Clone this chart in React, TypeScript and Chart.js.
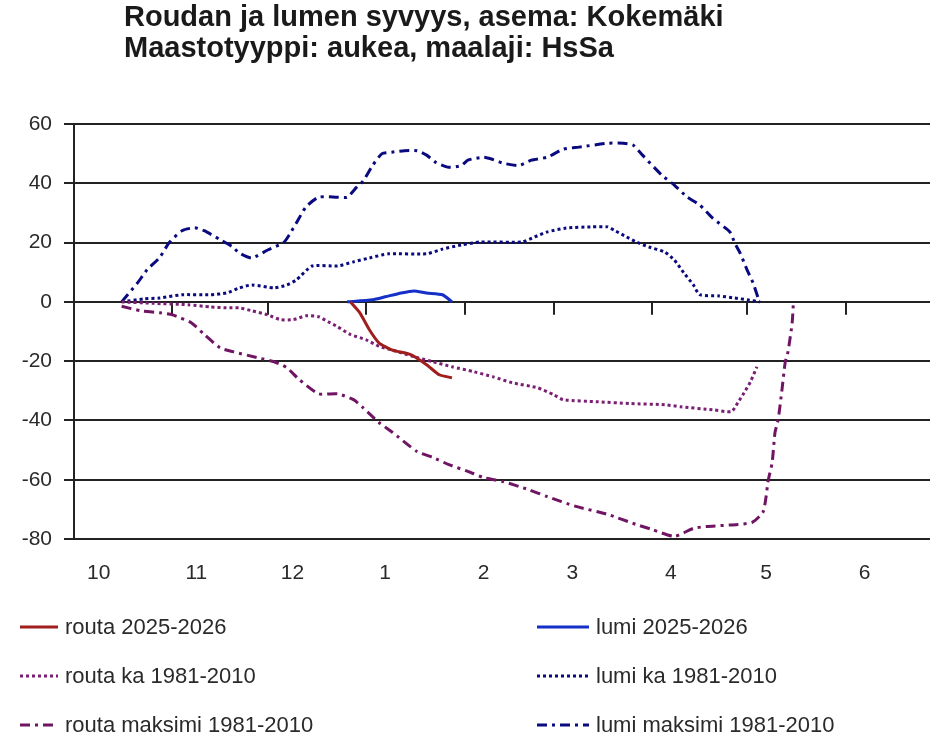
import React, { useEffect, useRef } from "react";
import { Chart, registerables } from "chart.js";

Chart.register(...registerables);

// x values are days since 1 October
const monthStarts = [0, 31, 61, 92, 123, 151, 182, 212, 243];
const monthLabels = ["10", "11", "12", "1", "2", "3", "4", "5", "6"];

const routaNowDays = [87, 90, 93, 96, 100, 106, 111, 115, 119];
const routaNowValues = [0, -3.7, -9.4, -13.8, -16.2, -17.8, -21.2, -24.6, -25.6];

const lumiNowDays = [86, 94, 98, 103, 107, 111, 116, 119];
const lumiNowValues = [0, 0.7, 1.7, 3, 3.7, 3, 2.4, 0];

const routaKaDays = [15, 25, 36, 43, 48, 52, 56, 61, 65, 69, 73, 77, 80, 83, 87, 92, 96, 100, 107, 113, 119, 126, 132, 138, 146, 151, 154, 165, 175, 186, 191, 201, 207, 209, 211, 213, 215];
const routaKaValues = [0, -0.5, -1, -1.7, -2, -2, -3, -4.4, -6, -6, -4.7, -5, -6.7, -8.4, -11, -12.8, -15, -16.2, -18.5, -20.2, -21.9, -23.6, -25.3, -27.3, -29, -31.3, -33, -33.7, -34.3, -34.7, -35.4, -36.4, -37, -34, -30.6, -26.9, -21.9];

const lumiKaDays = [15, 22, 27, 34, 43, 48, 52, 56, 63, 67, 70, 75, 83, 88, 93, 99, 111, 116, 122, 128, 141, 145, 149, 155, 163, 168, 170, 174, 177, 181, 186, 189, 192, 195, 197, 203, 208, 212, 216];
const lumiKaValues = [0, 1, 1.3, 2.4, 2.4, 3, 4.7, 5.7, 4.7, 5.7, 7.4, 12.1, 12.1, 13.5, 14.8, 16.2, 16.2, 17.8, 19.2, 20.2, 20.2, 21.9, 23.6, 24.9, 25.3, 25.3, 24.2, 21.9, 20.2, 18.5, 16.8, 14.1, 9.8, 5.7, 2.4, 2, 1.3, 0.7, 0];

const routaMaxDays = [15, 21, 27, 31, 37, 41, 46, 50, 58, 63, 67, 71, 77, 83, 88, 91, 96, 100, 108, 113, 118, 124, 129, 135, 143, 149, 158, 168, 177, 182, 189, 195, 199, 209, 213.5, 216.9, 217.9, 218.5, 219.8, 220.7, 221.7, 222.9, 223.9, 224.8, 226.1, 226.5];
const routaMaxValues = [-1.5, -3, -3.7, -4.4, -7.1, -11, -15.5, -16.8, -18.9, -20.2, -22.2, -26.3, -31, -31, -33, -35.7, -40.7, -43.8, -50.5, -52.5, -54.9, -57.2, -59.3, -60.6, -63.3, -65.7, -69, -71.7, -75.1, -76.8, -79.1, -76.4, -75.8, -75.1, -74.4, -71, -65.7, -60.6, -54.2, -44.1, -39.7, -29.6, -20.5, -16.8, -7.1, 0];

const lumiMaxDays = [15, 20, 23, 27, 30, 34, 38, 41, 46, 50, 52, 56, 61, 66, 68, 70, 73, 77, 83, 86, 89, 91, 94, 97, 100, 104, 108, 111, 114, 118, 122, 124, 129, 132, 135, 140, 144, 149, 154, 159, 168, 173, 176, 179, 185, 189, 193, 197, 201, 206.5, 208, 209.7, 211.9, 213.8, 215.4, 216];
const lumiMaxValues = [0, 6.4, 10.8, 15, 20, 24, 25, 24, 21, 18.5, 16.5, 14.8, 17.5, 20, 23, 26.6, 32, 35.3, 35.3, 35.3, 38.7, 40.7, 46, 50, 50.5, 51, 51, 49.5, 47, 45.4, 46, 47.8, 48.8, 48, 46.8, 46, 47.8, 48.8, 51.5, 52.2, 53.5, 53.5, 52.9, 49.5, 42.8, 39.4, 35.4, 32.7, 28.3, 23.6, 19.9, 16.5, 10.8, 6.4, 1.3, 0];

const titleLines = ["Roudan ja lumen syvyys, asema: Kokemäki", "Maastotyyppi: aukea, maalaji: HsSa"];

const FONT = '"Liberation Sans", Arial, sans-serif';
const C_ROUTA_NOW = "#a01e1e";
const C_LUMI_NOW = "#1530c8";
const C_ROUTA_KA = "#7a1f73";
const C_LUMI_KA = "#0a0a80";
const C_ROUTA_MAX = "#701464";
const C_LUMI_MAX = "#0a0a80";
const DOT = [3, 3];
const DASHDOT = [10, 5, 3, 5];

const series = [
  { label: "routa 2025-2026", days: routaNowDays, values: routaNowValues, color: C_ROUTA_NOW, dash: [] as number[] },
  { label: "lumi 2025-2026", days: lumiNowDays, values: lumiNowValues, color: C_LUMI_NOW, dash: [] as number[] },
  { label: "routa ka 1981-2010", days: routaKaDays, values: routaKaValues, color: C_ROUTA_KA, dash: DOT },
  { label: "lumi ka 1981-2010", days: lumiKaDays, values: lumiKaValues, color: C_LUMI_KA, dash: DOT },
  { label: "routa maksimi 1981-2010", days: routaMaxDays, values: routaMaxValues, color: C_ROUTA_MAX, dash: DASHDOT },
  { label: "lumi maksimi 1981-2010", days: lumiMaxDays, values: lumiMaxValues, color: C_LUMI_MAX, dash: DASHDOT },
];

const zeroTicksPlugin = {
  id: "zeroTicks",
  beforeDatasetsDraw(chart: any) {
    const { ctx, scales } = chart;
    const x = scales.x;
    const y = scales.y;
    const y0 = y.getPixelForValue(0);
    ctx.save();
    ctx.strokeStyle = "#222";
    ctx.lineWidth = 2;
    monthStarts.forEach((d) => {
      if (d === 0) return;
      const px = Math.round(x.getPixelForValue(d));
      ctx.beginPath();
      ctx.moveTo(px, y0);
      ctx.lineTo(px, y0 + 13);
      ctx.stroke();
    });
    ctx.restore();
  },
};

function LegendItem({ s, left, top, sample }: any) {
  return (
    <div style={{ position: "absolute", left, top, height: 24, display: "flex", alignItems: "center" }}>
      <svg width={sample} height={24} style={{ display: "block" }}>
        <line x1={0} y1={12} x2={sample} y2={12} stroke={s.color} strokeWidth={3}
          strokeDasharray={s.dash.length ? s.dash.join(",") : undefined} />
      </svg>
      <span style={{ marginLeft: 7, font: `22px ${FONT}`, lineHeight: "24px", color: "#2a2a2a", whiteSpace: "nowrap" }}>{s.label}</span>
    </div>
  );
}

export default function App() {
  const ref = useRef<HTMLCanvasElement>(null);
  useEffect(() => {
    if (!ref.current) return;
    const chart = new Chart(ref.current, {
      type: "line",
      data: {
        datasets: series.map((s) => ({
          label: s.label,
          data: s.days.map((d, i) => ({ x: d, y: s.values[i] })),
          borderColor: s.color,
          backgroundColor: s.color,
          borderWidth: 3,
          borderDash: s.dash,
          borderCapStyle: "butt" as const,
          pointRadius: 0,
          tension: 0.2,
          fill: false,
        })),
      },
      options: {
        animation: false,
        responsive: false,
        devicePixelRatio: 1,
        layout: { padding: { left: 0, right: 0, top: 124, bottom: 138 } },
        plugins: { legend: { display: false }, title: { display: false }, tooltip: { enabled: false } },
        scales: {
          x: {
            type: "linear",
            min: 0,
            max: 269.5,
            grid: { display: false },
            border: { display: false },
            afterBuildTicks: (scale: any) => {
              scale.ticks = monthStarts.map((v) => ({ value: v }));
            },
            afterFit: (scale: any) => {
              scale.height = 60;
            },
            ticks: {
              autoSkip: false,
              maxRotation: 0,
              align: "start",
              labelOffset: 13,
              padding: 14,
              color: "#2a2a2a",
              font: { family: FONT, size: 21 },
              callback: (v: any) => {
                const i = monthStarts.indexOf(Number(v));
                return i >= 0 ? monthLabels[i] : "";
              },
            },
          },
          y: {
            min: -80,
            max: 60,
            grid: { color: "#222", lineWidth: 2, tickLength: 10, drawTicks: true },
            border: { display: true, color: "#222", width: 2 },
            afterFit: (scale: any) => {
              scale.width = 74;
            },
            ticks: { stepSize: 20, padding: 12, color: "#2a2a2a", font: { family: FONT, size: 21 } },
          },
        },
      },
      plugins: [zeroTicksPlugin],
    } as any);
    return () => chart.destroy();
  }, []);

  const rows = [627, 676, 725];
  return (
    <div style={{ position: "absolute", left: 0, top: 0, width: 930, height: 737, background: "#fff", overflow: "hidden" }}>
      <canvas ref={ref} width={930} height={737} style={{ position: "absolute", left: 0, top: 0 }} />
      {titleLines.map((t, i) => (
        <div key={i} style={{ position: "absolute", left: 124, top: i === 0 ? 2 : 33, font: `bold 29px ${FONT}`, lineHeight: "29px", color: "#1a1a1a", whiteSpace: "nowrap" }}>{t}</div>
      ))}
      {series.map((s, i) => (
        <LegendItem key={s.label} s={s} sample={i % 2 === 0 ? 38 : 52} left={i % 2 === 0 ? 20 : 537} top={rows[Math.floor(i / 2)] - 12} />
      ))}
    </div>
  );
}
